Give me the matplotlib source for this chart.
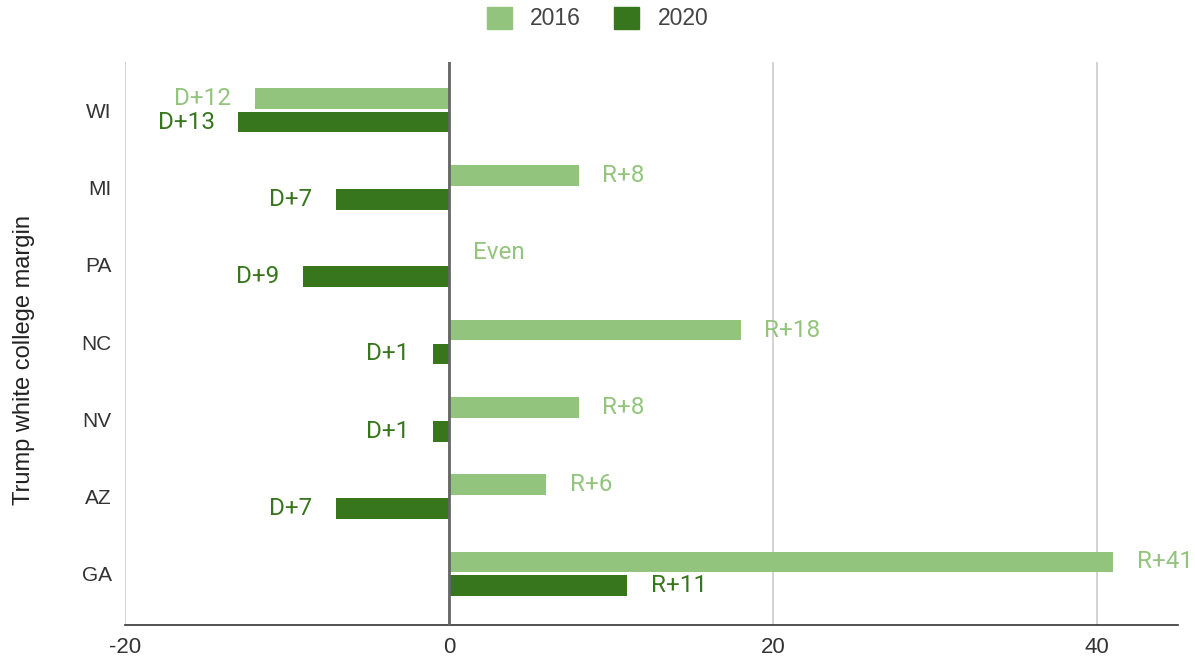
import matplotlib
matplotlib.use("Agg")
import matplotlib.pyplot as plt
from matplotlib.patches import Patch

# ---------- DATA ----------
states = ["WI", "MI", "PA", "NC", "NV", "AZ", "GA"]
margin_2016 = [-12, 8, 0, 18, 8, 6, 41]
margin_2020 = [-13, -7, -9, -1, -1, -7, 11]
series_names = ["2016", "2020"]
x_ticks = [-20, 0, 20, 40]

light_green = "#93c47d"
dark_green = "#38761d"


def label_for(v):
    if v == 0:
        return "Even"
    if v > 0:
        return "R+%d" % v
    return "D+%d" % (-v)


fig = plt.figure(figsize=(11.95, 6.61), dpi=100)
ax = fig.add_axes([0.1046, 0.0545, 0.8812, 0.8515])

pos = list(range(len(states)))
off = 0.155
h = 0.27

for vals, sign, col in [(margin_2016, -1, light_green), (margin_2020, 1, dark_green)]:
    ys = [p + sign * off for p in pos]
    ax.barh(ys, vals, height=h, color=col, zorder=3)
    for y, v in zip(ys, vals):
        if v < 0:
            ax.annotate(label_for(v), (v, y), xytext=(-17, 0), textcoords="offset points",
                        ha="right", va="center", color=col, fontsize=17.5, family="Roboto")
        else:
            ax.annotate(label_for(v), (v, y), xytext=(17, 0), textcoords="offset points",
                        ha="left", va="center", color=col, fontsize=17.5, family="Roboto")

ax.set_xlim(-20, 45)
ax.set_ylim(6.66, -0.62)
ax.set_xticks(x_ticks)
ax.set_xticklabels([str(t) for t in x_ticks])
ax.set_yticks(pos)
ax.set_yticklabels(states)
ax.tick_params(length=0, labelsize=16, labelcolor="#333333")
ax.tick_params(axis="y", pad=9.5, labelsize=15)
ax.tick_params(axis="x", pad=9)
for lab in ax.get_xticklabels() + ax.get_yticklabels():
    lab.set_family("Liberation Sans")

ax.grid(axis="x", color="#cccccc", linewidth=1.2, zorder=0)
ax.axvline(0, color="#666666", linewidth=2, zorder=4)
for s in ["top", "right", "left"]:
    ax.spines[s].set_visible(False)
ax.spines["bottom"].set_color("#333333")
ax.spines["bottom"].set_linewidth(1.2)

ax.set_ylabel("Trump white college margin", fontsize=17, family="Liberation Sans",
              color="#222222")
ax.yaxis.set_label_coords(-0.085, 0.47)

handles = [Patch(color=light_green), Patch(color=dark_green)]
fig.legend(handles, series_names, loc="center", bbox_to_anchor=(0.5, 0.972), ncol=2,
           frameon=False, prop={"family": "Liberation Sans", "size": 16.5},
           handlelength=1.1, handleheight=1.1, handletextpad=0.8, columnspacing=1.45,
           labelcolor="#444444")

plt.savefig("out.png", dpi=100)
plt.close()
